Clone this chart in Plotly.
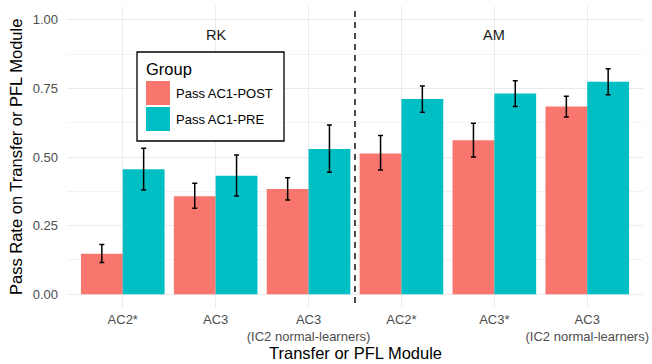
import plotly.graph_objects as go

# ---- data ----
tick_labels = ["AC2*", "AC3", "AC3<br>(IC2 normal-learners)",
               "AC2*", "AC3*", "AC3<br>(IC2 normal-learners)"]
positions = [1, 2, 3, 4, 5, 6]
groups = ["Pass AC1-POST", "Pass AC1-PRE"]
post_vals = [0.148, 0.357, 0.383, 0.513, 0.561, 0.684]
post_hi = [0.181, 0.404, 0.424, 0.578, 0.623, 0.721]
post_lo = [0.116, 0.313, 0.343, 0.453, 0.500, 0.646]
pre_vals = [0.455, 0.432, 0.529, 0.711, 0.731, 0.774]
pre_hi = [0.532, 0.507, 0.617, 0.759, 0.778, 0.821]
pre_lo = [0.380, 0.358, 0.444, 0.663, 0.684, 0.727]
facets = ["RK", "AM"]
facet_x = [2, 5]
divider_x = 3.5
y_ticks = [0, 0.25, 0.5, 0.75, 1.0]
y_tick_text = ["0.00", "0.25", "0.50", "0.75", "1.00"]

colors = ["#F8766D", "#00BFC4"]
FONT = "Liberation Sans, Arial, sans-serif"

W, H = 652, 364
ML, MR, MT, MB = 67, 9, 6, 56
PW, PH = W - ML - MR, H - MT - MB


def px(x):
    return (x - ML) / PW


def py(y):
    return (H - MB - y) / PH


fig = go.Figure()
series = [(post_vals, post_hi, post_lo), (pre_vals, pre_hi, pre_lo)]
for g, (vals, hi, lo), c in zip(groups, series, colors):
    fig.add_trace(go.Bar(
        x=positions, y=vals, name=g, marker=dict(color=c, line=dict(width=0)),
        error_y=dict(type="data", symmetric=False,
                     array=[h - v for h, v in zip(hi, vals)],
                     arrayminus=[v - l for v, l in zip(vals, lo)],
                     color="black", thickness=1.5, width=2.5),
        showlegend=False, hoverinfo="skip",
    ))

# divider
fig.add_shape(type="line", xref="x", yref="paper", x0=divider_x, x1=divider_x,
              y0=py(11), y1=0, line=dict(color="black", width=1.4, dash="6px,5px"))

for f, fx in zip(facets, facet_x):
    fig.add_annotation(x=fx, y=0.945, xref="x", yref="y", text=f, showarrow=False,
                       font=dict(size=14.5, color="#1A1A1A", family=FONT))

# manual legend (ggplot-style large keys)
fig.add_shape(type="rect", xref="paper", yref="paper",
              x0=px(137), x1=px(284), y0=py(52), y1=py(141),
              line=dict(color="black", width=1.3), fillcolor="white", layer="above")
fig.add_annotation(xref="paper", yref="paper", x=px(144), y=py(69), text="Group",
                   showarrow=False, xanchor="left", yanchor="middle",
                   font=dict(size=16.5, color="black", family=FONT))
key_y = [(81, 105), (107, 131)]
for g, c, (k0, k1) in zip(groups, colors, key_y):
    fig.add_shape(type="rect", xref="paper", yref="paper",
                  x0=px(146), x1=px(170), y0=py(k0), y1=py(k1),
                  line=dict(width=0), fillcolor=c, layer="above")
    fig.add_annotation(xref="paper", yref="paper", x=px(174), y=py((k0 + k1) / 2),
                       text=g, showarrow=False, xanchor="left", yanchor="middle",
                       font=dict(size=13, color="black", family=FONT))

# axis titles
fig.add_annotation(xref="paper", yref="paper", x=0.5, y=py(353),
                   text="Transfer or PFL Module", showarrow=False,
                   xanchor="center", yanchor="middle",
                   font=dict(size=16.5, color="black", family=FONT))
fig.add_annotation(xref="paper", yref="paper", x=px(16), y=0.5,
                   text="Pass Rate on Transfer or PFL Module", showarrow=False,
                   textangle=-90, xanchor="center", yanchor="middle",
                   font=dict(size=16.5, color="black", family=FONT))

fig.update_layout(
    width=W, height=H,
    margin=dict(l=ML, r=MR, t=MT, b=MB, autoexpand=False),
    paper_bgcolor="white", plot_bgcolor="white",
    barmode="group", bargap=0.1, bargroupgap=0,
    font=dict(family=FONT, color="#4D4D4D", size=13),
    xaxis=dict(range=[0.4, 6.6], tickvals=positions, ticktext=tick_labels,
               showgrid=True, gridcolor="#EBEBEB", gridwidth=1.1,
               zeroline=False, showline=False, ticks="", ticklen=0,
               automargin=False, ticklabelstandoff=2,
               tickfont=dict(size=13, color="#4D4D4D")),
    yaxis=dict(range=[-0.05, 1.05], tickvals=y_ticks, ticktext=y_tick_text,
               showgrid=True, gridcolor="#EBEBEB", gridwidth=1.1,
               minor=dict(tickvals=[0.125, 0.375, 0.625, 0.875], showgrid=True,
                          gridcolor="#F2F2F2", gridwidth=0.6),
               zeroline=False, showline=False, ticks="", automargin=False,
               ticklabelstandoff=8,
               tickfont=dict(size=13, color="#4D4D4D")),
)

fig.write_html("out.html", config={"displayModeBar": False},
               post_script="document.body.style.margin='0';document.body.style.padding='0';")
